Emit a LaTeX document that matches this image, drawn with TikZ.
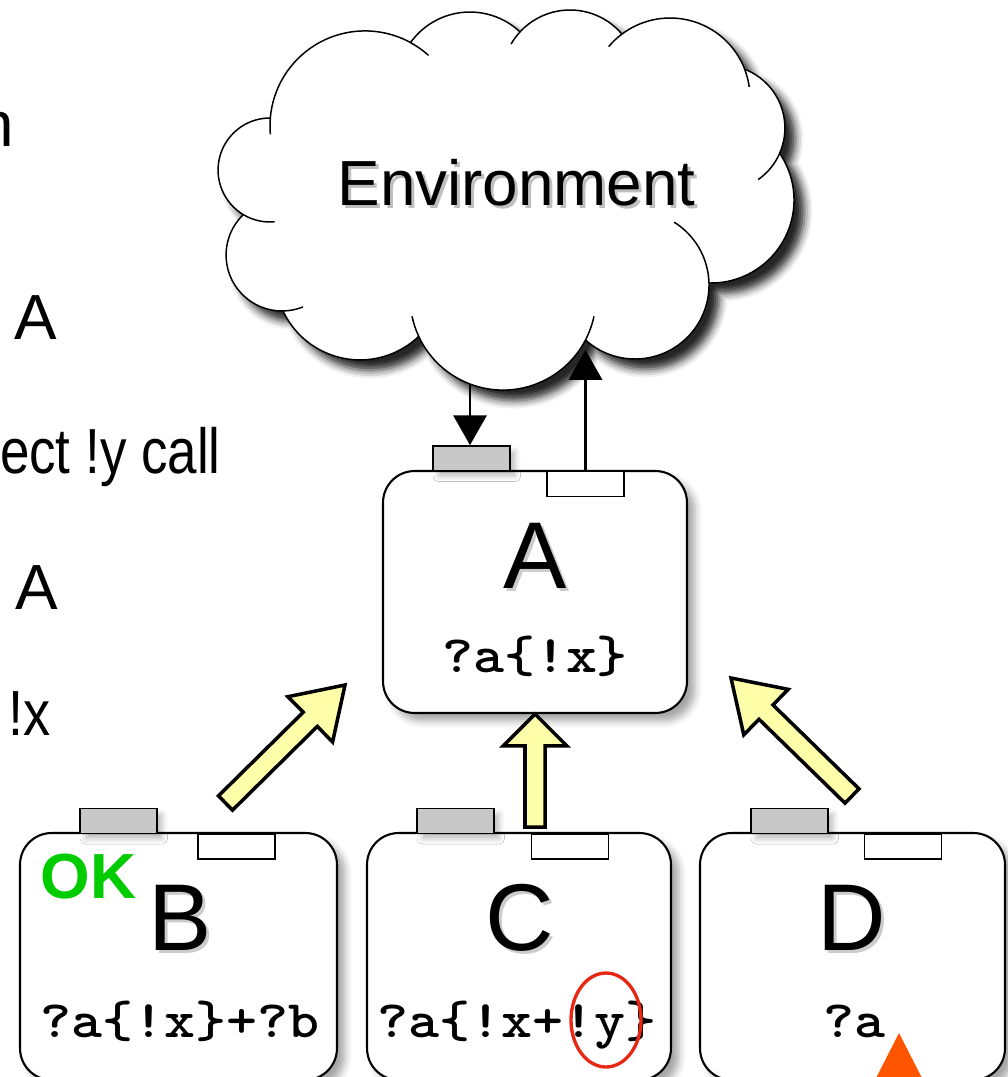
\documentclass[tikz,border=0pt]{standalone}
\usepackage{fontspec}
\usepackage{graphicx}
\setmainfont{Liberation Sans}
\usetikzlibrary{calc,shadows.blur,arrows.meta}

\definecolor{portgray}{RGB}{200,200,200}
\definecolor{pastelyellow}{RGB}{255,255,170}
\definecolor{okgreen}{RGB}{0,204,0}
\definecolor{markred}{RGB}{232,40,20}
\definecolor{warnorange}{RGB}{255,85,0}

% font size helper (size given in pt)
\newcommand\fsize[1]{\fontsize{#1}{#1}\selectfont}

% short arc continuing a cloud puff past its junction into the cloud
\newcommand\pufftail[5]{\draw[cloudline] ([shift={(#4:#3)}]#1,#2) arc[start angle=#4,end angle=#5,radius=#3];}

% yellow block arrow from tail #1 to tip #2 with head length #3
\newcommand\blockarrow[3]{%
  \coordinate (#2-base) at ($(#2)!#3!(#1)$);
  \draw[fatarrow] ($(#1)!5.7pt!90:(#2)$) -- ($(#2-base)!5.7pt!90:(#2)$)
    -- ($(#2-base)!18.1pt!90:(#2)$) -- (#2)
    -- ($(#2-base)!18.1pt!-90:(#2)$) -- ($(#2-base)!5.7pt!-90:(#2)$)
    -- ($(#1)!5.7pt!-90:(#2)$) -- cycle;}

\begin{document}
\begin{tikzpicture}[x=0.02cm, y=-0.02cm,
  cloudline/.style={draw=black, line width=0.85pt, line join=round},
  compbox/.style={draw, line width=1.2pt, fill=white, rounded corners=18pt, inner sep=0pt,
    blur shadow={shadow xshift=4.5pt, shadow yshift=-4.5pt, shadow blur radius=4pt, shadow opacity=35}},
  inport/.style={draw, line width=1pt, fill=portgray, minimum width=1.54cm, minimum height=0.5cm, inner sep=0pt,
    blur shadow={shadow xshift=3pt, shadow yshift=-3pt, shadow blur radius=3pt, shadow opacity=25}},
  outport/.style={draw, line width=1pt, fill=white, minimum width=1.54cm, minimum height=0.5cm, inner sep=0pt},
  bigletter/.style={font=\fsize{54pt}, inner sep=0pt, anchor=base},
  lettershade/.style={bigletter, text=black!20},
  codetext/.style={font=\ttfamily\bfseries\fsize{30pt}, inner sep=0pt, anchor=base},
  sidetext/.style={font=\fsize{36.3pt}, inner sep=0pt},
  flow/.style={draw=black, opacity=1, line width=1.3pt,
    -{Triangle[width=19pt,length=17pt,fill=black]}},
  fatarrow/.style={draw=black, opacity=1, line width=2pt, fill=pastelyellow, line join=miter},
]
\useasboundingbox (0,0) rectangle (1007,1077);

% ---- text along the left edge
\node[sidetext, anchor=base east] (lt1) at (14,147) {n};
\node[sidetext, anchor=base] (lt2) at (36,339) {A};
\node[sidetext, anchor=base east] (lt3) at (221,473) {\scalebox{0.83}[1]{ect !y call}};
\node[sidetext, anchor=base] (lt4) at (36.5,609) {A};
\node[sidetext, anchor=base west] (lt5) at (8,735) {\scalebox{0.85}[1]{!x}};

% ---- the environment cloud: one arc per puff
\draw[cloudline, fill=white,
  blur shadow={shadow xshift=6pt, shadow yshift=-6pt, shadow blur radius=4.5pt, shadow opacity=85}]
  (270.4,118) arc[start angle=-89.6, end angle=-239.1, radius=52]
  -- (243.3,214.6) arc[start angle=-133.8, end angle=-271, radius=56]
  -- (283,311) arc[start angle=154.9, end angle=46.3, radius=85]
  -- (418.7,336.4) arc[start angle=155, end angle=27.5, radius=93]
  -- (585.5,340) arc[start angle=132, end angle=-1.5, radius=74]
  -- (709,283) arc[start angle=91.4, end angle=-34.2, radius=83]
  -- (779.6,153.3) arc[start angle=23.7, end angle=-68.9, radius=63]
  -- (744.7,69.2) arc[start angle=-21.1, end angle=-127, radius=80]
  -- (621.9,34.1) arc[start angle=-40.2, end angle=-137.3, radius=68]
  -- (520,31.9) arc[start angle=-46.7, end angle=-144.5, radius=73]
  -- (410.6,42.6) arc[start angle=-61.3, end angle=-175.2, radius=95]
  -- cycle;
\pufftail{365}{126}{95}{-175.2}{-185}
\pufftail{270}{170}{52}{-239.1}{-275}
\pufftail{282}{255}{56}{-271}{-292}
\pufftail{503}{297}{93}{155}{168}
\pufftail{503}{297}{93}{27.5}{12}
\pufftail{635}{285}{74}{-1.5}{-58}
\pufftail{722}{128}{63}{23.7}{55}
\pufftail{670}{98}{80}{-21.1}{-8}
\pufftail{670}{98}{80}{-127}{-140}
\pufftail{570}{78}{68}{-137.3}{-150}
\pufftail{365}{126}{95}{-61.3}{-48}

\node[font=\fsize{36.3pt}, text=black!25, anchor=base, inner sep=0pt] (envshade) at (519.5,209) {Environment};
\node[font=\fsize{36.3pt}, anchor=base, inner sep=0pt] (env) at (516.5,206) {Environment};

% ---- components
\node[compbox, minimum width=6.08cm, minimum height=4.84cm] (A) at (535,592) {};
\node[compbox, minimum width=6.34cm, minimum height=4.94cm] (B) at (178.5,956.5) {};
\node[compbox, minimum width=6.08cm, minimum height=4.94cm] (C) at (519,956.5) {};
\node[compbox, minimum width=6.1cm, minimum height=4.94cm] (D) at (852.5,956.5) {};

% ports: grey input on top, white output hanging inside
\node[inport] (gA) at (471.5,458.5) {};
\node[outport] (wA) at (585.5,484) {};
\node[inport] (gB) at (118.5,821) {};
\node[outport] (wB) at (236.5,846.5) {};
\node[inport] (gC) at (455.5,821) {};
\node[outport] (wC) at (570,846.5) {};
\node[inport] (gD) at (789.5,821) {};
\node[outport] (wD) at (903,846.5) {};

% ---- environment links
\coordinate (envOut) at (470,384);
\coordinate (envIn) at (585.5,350);
\draw[flow] (envOut) -- (envOut |- gA.north);
\draw[flow] (wA.north) -- (wA.north |- envIn);

% ---- names and behaviours
\node[lettershade] (Ash) at (538,591) {A};
\node[bigletter] (Aname) at (535,588) {A};
\node[lettershade] (Bsh) at (183,953) {B};
\node[bigletter] (Bname) at (180,950) {B};
\node[lettershade] (Csh) at (522.5,953) {C};
\node[bigletter] (Cname) at (519.5,950) {C};
\node[lettershade] (Dsh) at (855,953) {D};
\node[bigletter] (Dname) at (852,950) {D};

\node[codetext] (Acode) at (535,672) {\scalebox{1.12}[1]{?a\{!x\}}};
\node[codetext] (Bcode) at (180,1037) {\scalebox{1.12}[1]{?a\{!x\}+?b}};
\node[codetext] (Ccode) at (517,1037) {\scalebox{1.12}[1]{?a\{!x+!y\}}};
\node[codetext] (Dcode) at (854,1037) {\scalebox{1.12}[1]{?a}};

\node[font=\bfseries\fsize{36.3pt}, text=okgreen, anchor=base, inner sep=0pt] (ok) at (88.5,898) {OK};

% ---- marks
\draw[markred, line width=1.9pt] (606,1020) ellipse [x radius=35, y radius=47];
\fill[warnorange] (899,1033) -- (872,1086) -- (926,1086) -- cycle;

% ---- composition arrows towards A
\coordinate (tailB) at (225.5,803);
\coordinate (tipB) at (345,685);
\coordinate (tailC) at (535,827);
\coordinate (tipC) at (535,714);
\coordinate (tailD) at (852,796);
\coordinate (tipD) at (731,678);
\blockarrow{tailB}{tipB}{27.8pt}
\blockarrow{tailC}{tipC}{18.1pt}
\blockarrow{tailD}{tipD}{27.8pt}
\end{tikzpicture}
\end{document}
